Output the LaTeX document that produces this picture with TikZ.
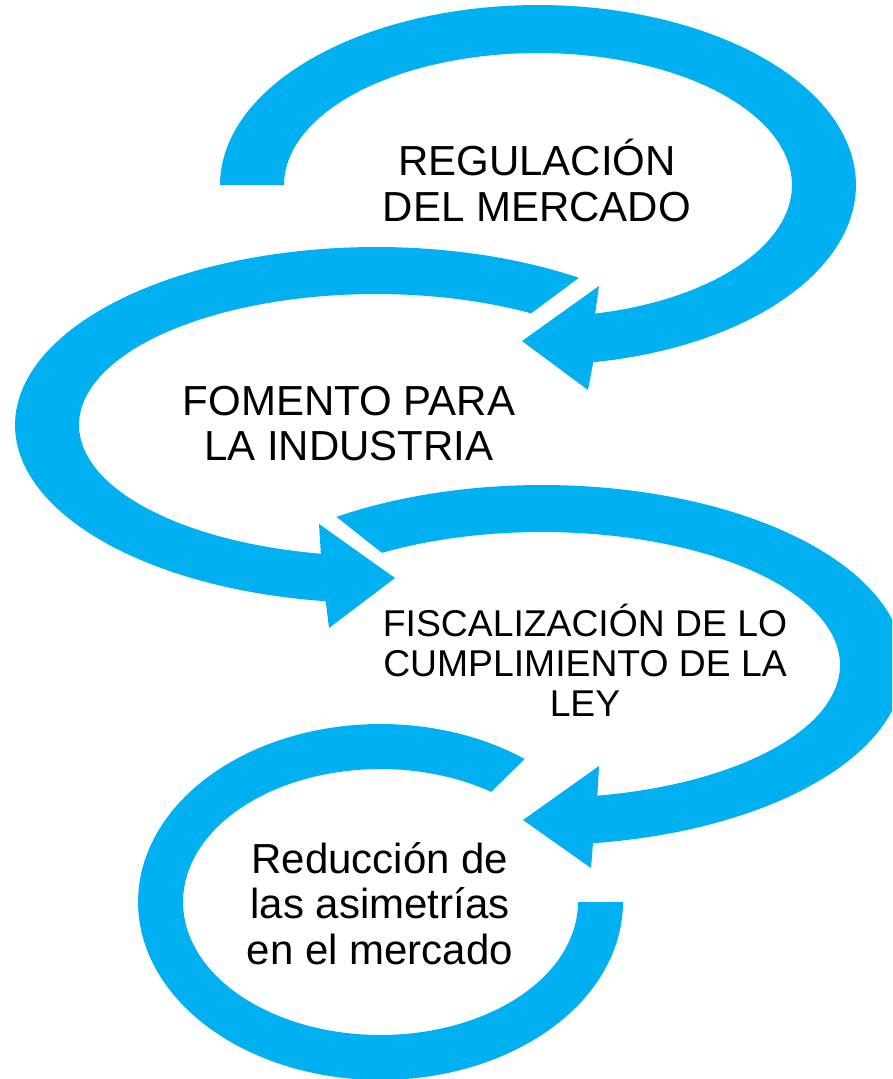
\documentclass[tikz,border=0pt]{standalone}
\usepackage{fontspec}
\setmainfont{Liberation Sans}
\definecolor{cyc}{RGB}{0,176,240}
\tikzset{
  cycarrow/.style={fill=cyc, draw=none},
  lbl/.style={align=center, inner sep=0pt, text=black},
  big/.style={lbl, font=\fontsize{42}{45.5}\selectfont},
  small/.style={lbl, font=\fontsize{37.3}{40}\selectfont}
}
\begin{document}
\begin{tikzpicture}[x=1pt,y=-1pt]
\useasboundingbox (0,0) rectangle (892,1079);
\fill[white] (0,0) rectangle (892,1079);
\clip (0,0) rectangle (892,1079);
% arrow 1: Regulacion
\fill[cycarrow] plot[domain=180:440,samples=120] ({538+318*cos(\x)},{185+180*sin(\x)})
  -- (588,390) -- (522,341) -- (599,286)
  -- plot[domain=437:180,samples=120] ({538+254*cos(\x)},{185+132*sin(\x)}) -- cycle;
% arrow 2: Fomento
\fill[cycarrow] plot[domain=304.2:98,samples=120] ({376+361*cos(\x)},{425+178*sin(\x)})
  -- (329,628) -- (395,578) -- (319,524)
  -- plot[domain=100.7:301.5,samples=120] ({376+297*cos(\x)},{425+131*sin(\x)}) -- cycle;
% arrow 3: Fiscalizacion
\fill[cycarrow] plot[domain=235.4:441.9,samples=120] ({542+362*cos(\x)},{665+180*sin(\x)})
  -- (591,868) -- (523,820) -- (599,766)
  -- plot[domain=439.3:237.5,samples=120] ({542+298*cos(\x)},{665+133*sin(\x)}) -- cycle;
% arrow 4: Reduccion
\fill[cycarrow] plot[domain=306.5:0,samples=120] ({380.5+242.5*cos(\x)},{902+178*sin(\x)})
  -- plot[domain=0:304.1,samples=120] ({380.5+197.5*cos(\x)},{902+133*sin(\x)}) -- cycle;
% labels
\node[big] (t1) at (537,180.5) {REGULACIÓN\\DEL MERCADO};
\node[big] (t2) at (349,423.5) {FOMENTO PARA\\LA INDUSTRIA};
\node[small] (t3) at (585,660) {FISCALIZACIÓN DE LO\\CUMPLIMIENTO DE LA\\LEY};
\node[big] (t4) at (380,903.5) {Reducción de\\las asimetrías\\en el mercado};
\end{tikzpicture}
\end{document}
